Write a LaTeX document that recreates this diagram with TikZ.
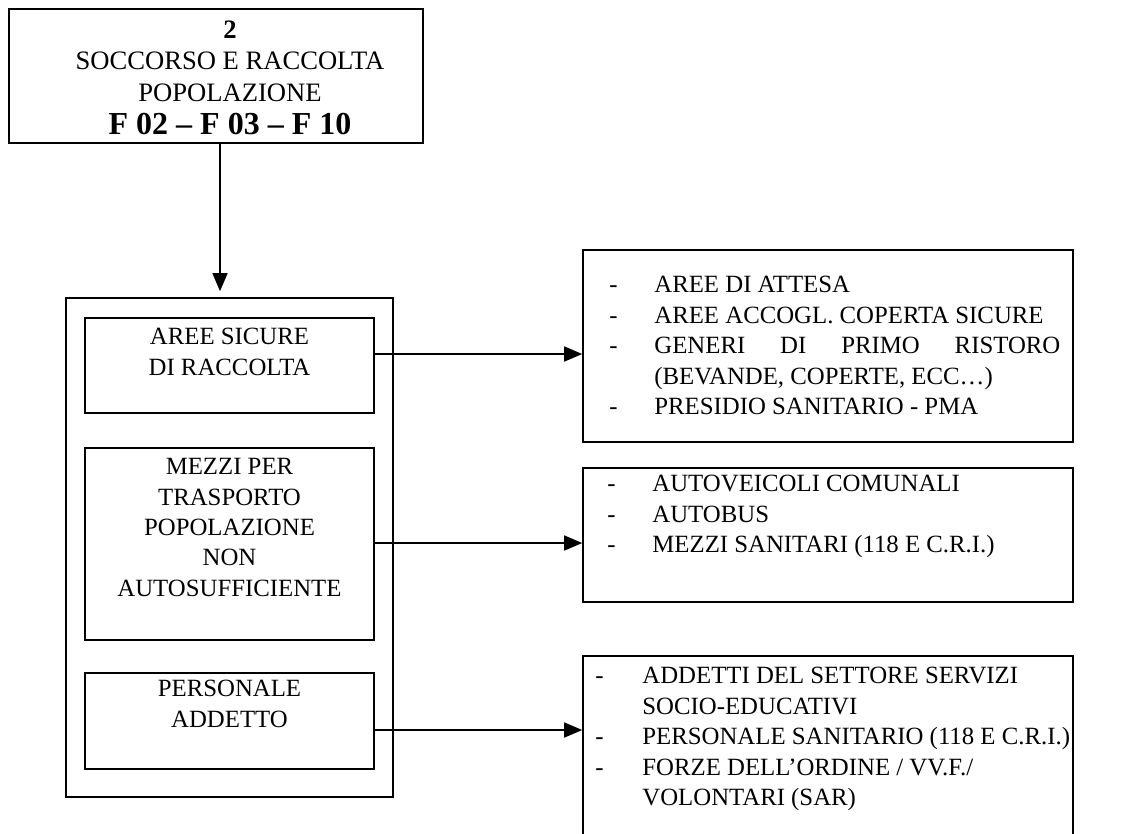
\documentclass[tikz,border=0pt]{standalone}
\usepackage{fontspec}
\setmainfont{Liberation Serif}
\usetikzlibrary{arrows.meta,fit}

\tikzset{
  box/.style={draw, line width=0.8pt, inner sep=0pt, fill=none},
  txt/.style={inner sep=0pt, font=\fontsize{12.4}{15.2}\selectfont},
  ctxt/.style={txt, align=center, anchor=north},
  ltxt/.style={txt, align=left, anchor=north west},
  arr/.style={line width=0.75pt, -{Triangle[length=9pt,width=7.5pt]}},
}
\newcommand{\dashitem}{\makebox[22.5pt][l]{-}}
\newcommand{\contitem}{\hspace*{22.5pt}}

\begin{document}
\begin{tikzpicture}[x=0.5pt,y=-0.5pt]
  \useasboundingbox (0,0) rectangle (1123,834);
  \clip (0,0) rectangle (1123,834);

  % header box
  \node[box, fit={(9,9) (423,143)}] (head) {};
  \node[ctxt, font=\fontsize{13.3}{15.8}\selectfont] (headtxt) at (230,20)
    {{\bfseries 2}\\SOCCORSO E RACCOLTA\\POPOLAZIONE\\[1pt]
     {\fontsize{16}{16}\selectfont\bfseries F 02 – F 03 – F 10}};

  % outer frame with the three resource groups
  \node[box, fit={(66,298) (393,797)}] (frame) {};
  \node[box, fit={(85,318) (374,413)}] (aree) {};
  \node[box, fit={(85,448) (374,640)}] (mezzi) {};
  \node[box, fit={(85,673) (374,769)}] (pers) {};

  \node[ctxt] (areetxt) at (229.5,328) {AREE SICURE\\DI RACCOLTA};
  \node[ctxt] (mezzitxt) at (229.5,458)
    {MEZZI PER\\TRASPORTO\\POPOLAZIONE\\NON\\AUTOSUFFICIENTE};
  \node[ctxt] (perstxt) at (229.5,680) {PERSONALE\\ADDETTO};

  % detail boxes
  \node[box, fit={(583,250) (1073,442)}] (d1) {};
  \node[box, fit={(583,468) (1073,602)}] (d2) {};
  \node[box, fit={(583,656) (1073,900)}] (d3) {};

  \node[ltxt] (d1txt) at (609,276)
    {\dashitem AREE DI ATTESA\\
     \dashitem AREE ACCOGL. COPERTA SICURE\\
     \dashitem\makebox[203pt][s]{GENERI\hfill DI\hfill PRIMO\hfill RISTORO}\\
     \contitem(BEVANDE, COPERTE, ECC…)\\
     \dashitem PRESIDIO SANITARIO - PMA};
  \node[ltxt] (d2txt) at (607,475)
    {\dashitem AUTOVEICOLI COMUNALI\\
     \dashitem AUTOBUS\\
     \dashitem MEZZI SANITARI (118 E C.R.I.)};
  \node[ltxt] (d3txt) at (595,667)
    {\makebox[23.5pt][l]{-}ADDETTI DEL SETTORE SERVIZI\\
     \hspace*{23.5pt}SOCIO-EDUCATIVI\\
     \makebox[23.5pt][l]{-}PERSONALE SANITARIO (118 E C.R.I.)\\
     \makebox[23.5pt][l]{-}FORZE DELL’ORDINE / VV.F./\\
     \hspace*{23.5pt}VOLONTARI (SAR)};

  % connectors
  \coordinate (t0) at ([xshift=2pt]head.south);
  \draw[arr, shorten >=3pt] (t0) -- (t0 |- frame.north);

  \coordinate (s1) at ([yshift=5.75pt]aree.east);
  \coordinate (s2) at ([yshift=0.5pt]mezzi.east);
  \coordinate (s3) at ([yshift=-4.5pt]pers.east);
  \draw[arr] (s1) -- (s1 -| d1.west);
  \draw[arr] (s2) -- (s2 -| d2.west);
  \draw[arr] (s3) -- (s3 -| d3.west);
\end{tikzpicture}
\end{document}
